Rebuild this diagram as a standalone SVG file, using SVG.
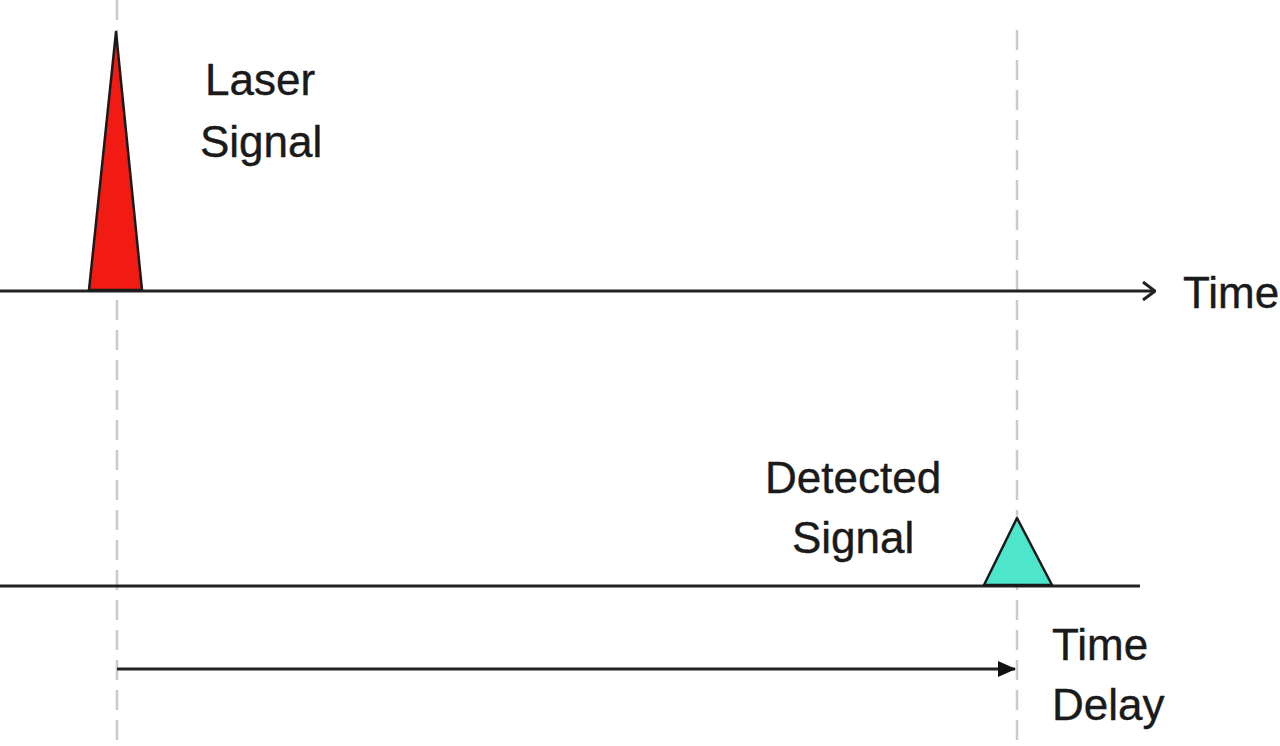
<svg xmlns="http://www.w3.org/2000/svg" width="1280" height="746" viewBox="0 0 1280 746">
<style>
.guide{stroke:#c4cccc;stroke-width:2.5;stroke-dasharray:20 10;fill:none}
.axis{stroke:#222;stroke-width:3;fill:none}
.lbl{font-family:"Liberation Sans",Arial,sans-serif;font-size:44px;fill:#1a1a1a;stroke:#1a1a1a;stroke-width:0.4}
</style>
<defs>
<marker id="open" markerWidth="14" markerHeight="20" refX="13" refY="10" orient="auto" markerUnits="userSpaceOnUse">
<path d="M1,1 L13,10 L1,19" fill="none" stroke="#222" stroke-width="3"/>
</marker>
<marker id="filled" markerWidth="18" markerHeight="16" refX="17" refY="8" orient="auto" markerUnits="userSpaceOnUse">
<path d="M0,0 L18,8 L0,16 Z" fill="#111"/>
</marker>
</defs>
<rect width="1280" height="746" fill="#fff"/>
<g id="connectors">
<line class="guide" x1="117" y1="0" x2="117" y2="746"/>
<line class="guide" x1="1017" y1="30" x2="1017" y2="746"/>
<line class="axis" x1="0" y1="291" x2="1155" y2="291" marker-end="url(#open)"/>
<line class="axis" x1="0" y1="586" x2="1140" y2="586"/>
<line class="axis" x1="117" y1="669" x2="1015" y2="669" marker-end="url(#filled)"/>
</g>
<g id="laser-pulse">
<polygon points="116,32 89,290 142,290" fill="#f21b14" stroke="#1a1a1a" stroke-width="2.5" stroke-linejoin="round"/>
</g>
<g id="detected-pulse">
<polygon points="1017,518 984,585 1052,585" fill="#4de6cc" stroke="#1a1a1a" stroke-width="2.5" stroke-linejoin="round"/>
</g>
<g id="laser-label">
<text class="lbl" x="205" y="95">Laser</text>
<text class="lbl" x="200" y="157">Signal</text>
</g>
<g id="time-label">
<text class="lbl" x="1183" y="308">Time</text>
</g>
<g id="detected-label">
<text class="lbl" x="765" y="493">Detected</text>
<text class="lbl" x="792" y="553">Signal</text>
</g>
<g id="delay-label">
<text class="lbl" x="1052" y="660">Time</text>
<text class="lbl" x="1052" y="720">Delay</text>
</g>
</svg>
